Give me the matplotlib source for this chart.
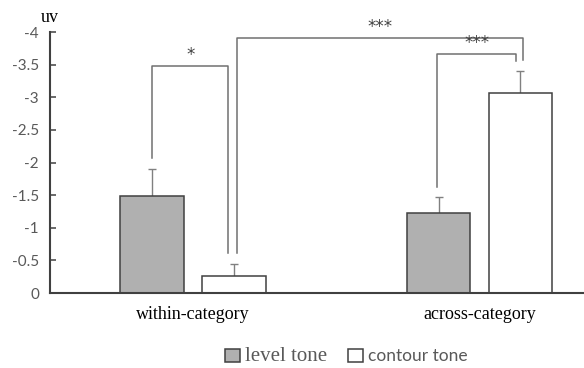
import numpy as np
import matplotlib.pyplot as plt
from matplotlib.patches import Patch

# Mean amplitudes (uV) and standard errors per condition
categories = ['within-category', 'across-category']
level_tone = [-1.48, -1.22]
contour_tone = [-0.26, -3.07]
level_err = [0.42, 0.25]
contour_err = [0.19, 0.33]
yticks = [0, -0.5, -1, -1.5, -2, -2.5, -3, -3.5, -4]

axis_grey = '#404040'
text_grey = '#595959'
line_grey = '#707070'
err_grey = '#808080'

fig = plt.figure(figsize=(5.84, 3.68), dpi=100)
ax = fig.add_axes([0.0856, 0.2038, 0.9144, 0.7092])

x = np.arange(len(categories))
offset = 0.143
width = 0.223


def bars_with_err(pos, vals, errs, color):
    ax.bar(pos, vals, width, color=color, edgecolor=axis_grey, linewidth=1.1, zorder=2)
    # one-sided error bars (towards more negative values)
    tips = np.array(vals) - np.array(errs)
    ax.vlines(pos, vals, tips, color=err_grey, linewidth=1, zorder=1)
    ax.plot(pos, tips, linestyle='none', marker='_', markersize=6,
            markeredgewidth=1, color=err_grey, zorder=1)


bars_with_err(x - offset, level_tone, level_err, '#b0b0b0')
bars_with_err(x + offset, contour_tone, contour_err, 'white')

ax.set_xlim(-0.5, 1.365)
ax.set_ylim(0, -4)
ax.set_yticks(yticks)
ax.set_yticklabels([f'{t:g}' for t in yticks], fontfamily='Lato',
                   fontsize=11, color=text_grey)
ax.tick_params(axis='y', direction='in', length=4, width=1.1, color=axis_grey, pad=8)
ax.set_xticks(x)
ax.set_xticklabels(categories, fontfamily='Liberation Serif', fontsize=13)
ax.tick_params(axis='x', length=0, pad=9)

for side in ['top', 'right']:
    ax.spines[side].set_visible(False)
for side in ['left', 'bottom']:
    ax.spines[side].set_color(axis_grey)
    ax.spines[side].set_linewidth(1.5)

ax.text(-0.5, -4.22, 'uv', fontfamily='Liberation Serif', fontsize=13,
        ha='center', va='center', clip_on=False)


def bracket(x1, x2, top, bottom1, bottom2, label):
    ax.plot([x1, x1, x2, x2], [bottom1, top, top, bottom2], color=line_grey,
            linewidth=1.1, clip_on=False)
    ax.text((x1 + x2) / 2, top - 0.03, label, ha='center', va='bottom',
            fontsize=12, color='#404040', fontfamily='DejaVu Sans')


# significance markers
bracket(x[0] - offset, x[0] + offset - 0.02, -3.48, -2.07, -0.61, '*')
bracket(x[0] + offset + 0.01, x[1] + offset + 0.01, -3.91, -0.61, -3.57, '***')
bracket(x[1] - offset - 0.005, x[1] + offset - 0.015, -3.66, -1.62, -3.56, '***')

handles = [Patch(facecolor='#b0b0b0', edgecolor=axis_grey, linewidth=1.1),
           Patch(facecolor='white', edgecolor=axis_grey, linewidth=1.1)]
leg = fig.legend(handles, ['level tone', 'contour tone'], loc='center',
                 bbox_to_anchor=(0.593, 0.03), ncol=2, frameon=False,
                 handlelength=0.85, handleheight=0.85, handletextpad=0.3,
                 columnspacing=1.3, fontsize=12)
leg.get_texts()[0].set_fontfamily('Liberation Serif')
leg.get_texts()[0].set_fontsize(15)
leg.get_texts()[1].set_fontfamily('Lato')
leg.get_texts()[1].set_fontsize(12.5)
for t in leg.get_texts():
    t.set_color(text_grey)

fig.savefig('out.png', dpi=100)
